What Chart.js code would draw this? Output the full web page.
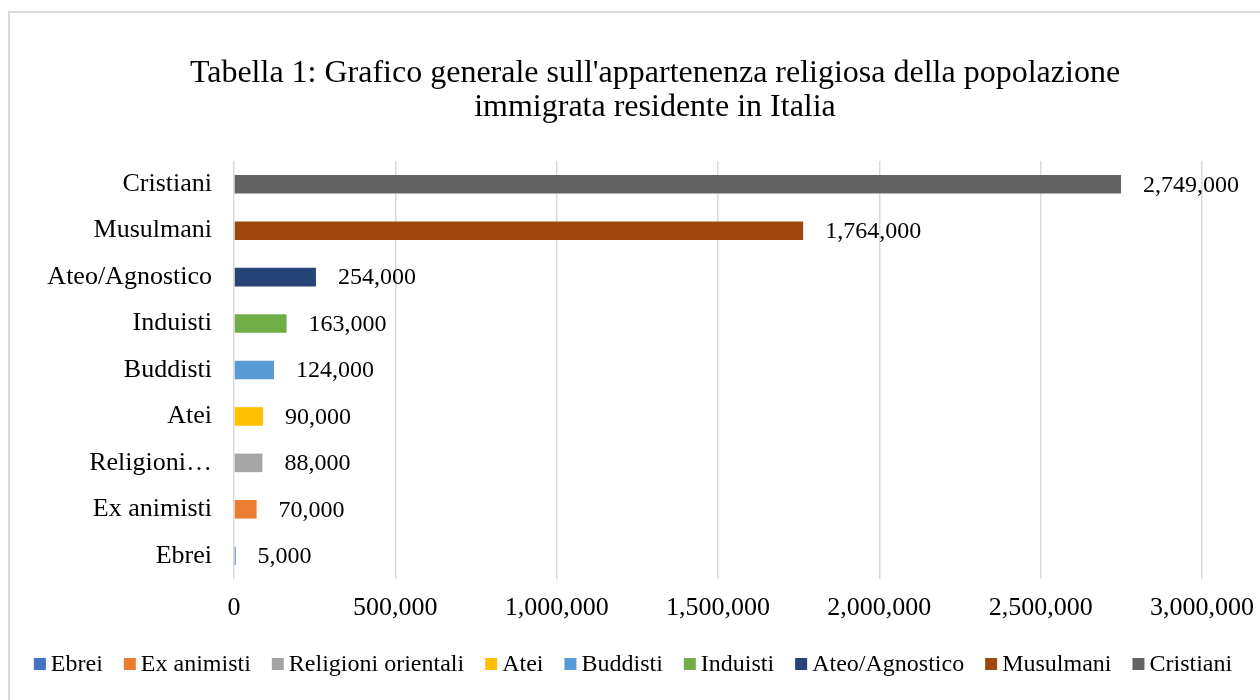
<!DOCTYPE html>
<html>
<head>
<meta charset="utf-8">
<script src="https://cdn.jsdelivr.net/npm/chart.js@4/dist/chart.umd.min.js"></script>
<style>
  html, body { margin: 0; padding: 0; background: #fff; }
  #wrap { position: relative; width: 1260px; height: 700px; }
</style>
</head>
<body>
<div id="wrap"><canvas id="c" width="1260" height="700"></canvas></div>
<script>
// ---- Data ----
const titleLines = ["Tabella 1: Grafico generale sull'appartenenza religiosa della popolazione", "immigrata residente in Italia"];
const categories = ["Ebrei", "Ex animisti", "Religioni orientali", "Atei", "Buddisti", "Induisti", "Ateo/Agnostico", "Musulmani", "Cristiani"];
const values = [5000, 70000, 88000, 90000, 124000, 163000, 254000, 1764000, 2749000];
const colors = ["#4472C4", "#ED7D31", "#A5A5A5", "#FFC000", "#5B9BD5", "#70AD47", "#264478", "#9E480E", "#636363"];
const xTicks = [0, 500000, 1000000, 1500000, 2000000, 2500000, 3000000];

const SERIF = "'Liberation Serif', 'Times New Roman', serif";
const fmt = v => Number(v).toLocaleString('en-US');

const datasets = categories.map((name, i) => ({
  label: name,
  data: categories.map((_, j) => (j === i ? values[i] : null)),
  backgroundColor: colors[i],
  borderWidth: 0,
  grouped: false,
  categoryPercentage: 1.0,
  barPercentage: 0.4
}));

const framePlugin = {
  id: 'frame',
  beforeDraw(chart) {
    const ctx = chart.ctx;
    ctx.save();
    ctx.fillStyle = '#fff';
    ctx.fillRect(0, 0, chart.width, chart.height);
    ctx.strokeStyle = '#d9d9d9';
    ctx.lineWidth = 2;
    ctx.strokeRect(9, 12, 1400, 1000);
    ctx.restore();
  }
};

const titlePlugin = {
  id: 'customTitle',
  afterDraw(chart) {
    const ctx = chart.ctx;
    ctx.save();
    ctx.font = "32px " + SERIF;
    ctx.fillStyle = '#000';
    ctx.textAlign = 'center';
    ctx.textBaseline = 'alphabetic';
    titleLines.forEach((t, i) => ctx.fillText(t, 655, 82 + i * 34));
    ctx.restore();
  }
};

const labelPlugin = {
  id: 'valueLabels',
  afterDatasetsDraw(chart) {
    const ctx = chart.ctx;
    ctx.save();
    ctx.font = "24px " + SERIF;
    ctx.fillStyle = '#000';
    ctx.textAlign = 'left';
    ctx.textBaseline = 'middle';
    chart.data.datasets.forEach((ds, di) => {
      const meta = chart.getDatasetMeta(di);
      ds.data.forEach((v, i) => {
        if (v === null) return;
        const el = meta.data[i];
        ctx.fillText(fmt(v), el.x + 22, el.y + 1);
      });
    });
    ctx.restore();
  }
};

// Excel-style legend: small square, tight gap, drawn on one row
const legendPlugin = {
  id: 'excelLegend',
  afterDraw(chart) {
    const ctx = chart.ctx;
    const box = 12, gap = 5, itemGap = 21, cy = 664;
    ctx.save();
    ctx.font = "24px " + SERIF;
    ctx.textBaseline = 'middle';
    ctx.textAlign = 'left';
    const items = chart.data.datasets.map(ds => ({ text: ds.label, color: ds.backgroundColor, w: ctx.measureText(ds.label).width }));
    const total = items.reduce((s, it) => s + box + gap + it.w, 0) + itemGap * (items.length - 1);
    let x = 633 - total / 2;
    items.forEach(it => {
      ctx.fillStyle = it.color;
      ctx.fillRect(x, cy - box / 2, box, box);
      x += box + gap;
      ctx.fillStyle = '#000';
      ctx.fillText(it.text, x, cy + 1);
      x += it.w + itemGap;
    });
    ctx.restore();
  }
};

new Chart(document.getElementById('c'), {
  type: 'bar',
  data: { labels: categories, datasets },
  plugins: [framePlugin, titlePlugin, labelPlugin, legendPlugin],
  options: {
    indexAxis: 'y',
    responsive: false,
    animation: false,
    layout: { padding: { top: 161, right: 58, bottom: 61, left: 0 } },
    scales: {
      x: {
        min: 0,
        max: 3000000,
        afterBuildTicks(scale) { scale.ticks = xTicks.map(v => ({ value: v })); },
        afterFit(scale) { scale.height = 60; scale.paddingLeft = 0; scale.paddingRight = 0; },
        grid: { color: '#d9d9d9', lineWidth: 1.5, drawTicks: false },
        border: { display: false },
        ticks: {
          padding: 14,
          color: '#000',
          font: { family: SERIF, size: 26 },
          maxRotation: 0,
          callback: v => fmt(v)
        }
      },
      y: {
        reverse: true,
        afterFit(scale) { scale.width = 234; },
        grid: { display: false, drawTicks: false },
        border: { display: false },
        ticks: {
          padding: 22,
          color: '#000',
          font: { family: SERIF, size: 26 },
          callback(v) {
            const l = this.getLabelForValue(v);
            return l.length > 15 ? l.split(' ')[0] + '…' : l;
          }
        }
      }
    },
    plugins: {
      title: { display: false },
      tooltip: { enabled: false },
      legend: { display: false }
    }
  }
});
</script>
</body>
</html>
